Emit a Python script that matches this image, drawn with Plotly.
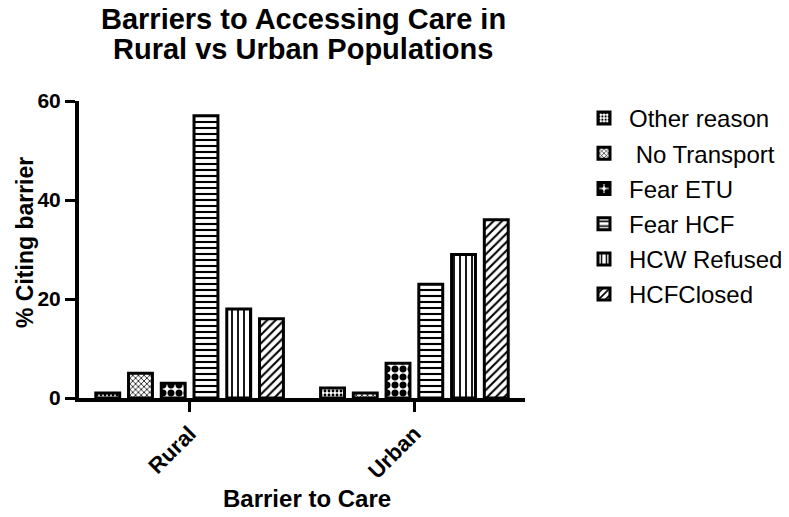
import plotly.graph_objects as go

# groups on the x axis
groups = ["Rural", "Urban"]

# barrier categories (legend order)
barriers = ["Other reason", " No Transport", "Fear ETU", "Fear HCF", "HCW Refused", "HCFClosed"]

# % citing barrier, one list per barrier: [Rural, Urban]
other_reason = [1, 2]
no_transport = [5, 1]
fear_etu = [3, 7]
fear_hcf = [57, 23]
hcw_refused = [18, 29]
hcf_closed = [16, 36]

title_lines = ["Barriers to Accessing Care in", "Rural vs Urban Populations"]

series = [other_reason, no_transport, fear_etu, fear_hcf, hcw_refused, hcf_closed]
patterns = [".", "x", ".", "-", "|", "/"]
pattern_sizes = [4, 4, 8, 6, 6, 6]
solidity = [0.4, 0.35, 0.6, 0.35, 0.3, 0.35]

font_family = "Liberation Sans, Arial, sans-serif"

# the page body adds an 8px margin, so figure pixels = screen pixels - 8
OFF = 8
W, H = 789, 517

fig = go.Figure()

for i, (name, vals) in enumerate(zip(barriers, series)):
    fig.add_trace(go.Bar(
        x=groups,
        y=vals,
        name=name,
        legendgroup="g%d" % i,
        marker=dict(
            color="white",
            line=dict(color="black", width=3),
            pattern=dict(shape=patterns[i], fgcolor="black", bgcolor="white",
                         size=pattern_sizes[i], solidity=solidity[i], fillmode="replace"),
        ),
    ))

# plot area in screen pixels, then converted to figure pixels
L_s, R_s, T_s, B_s = 79, 525, 101, 398
L, R, T, B = L_s - OFF, R_s - OFF, T_s - OFF, B_s - OFF

def py(pix):
    # screen row -> paper y
    return (B - (pix - OFF)) / (B - T)

def px(pix):
    return ((pix - OFF) - L) / (R - L)

# two-line title, written as annotations to get the tight line spacing
for line, ypix in zip(title_lines, [19, 49]):
    fig.add_annotation(
        text="<b>%s</b>" % line, xref="paper", yref="paper",
        x=px(303), y=py(ypix), xanchor="center", yanchor="middle",
        showarrow=False, font=dict(size=29, family=font_family, color="black"),
    )

# axis titles as annotations, placed where the original has them
fig.add_annotation(
    text="<b>Barrier to Care</b>", xref="paper", yref="paper",
    x=px(307), y=py(498), xanchor="center", yanchor="middle",
    showarrow=False, font=dict(size=24, family=font_family, color="black"),
)
fig.add_annotation(
    text="<b>% Citing barrier</b>", xref="paper", yref="paper",
    x=px(25), y=py(243), xanchor="center", yanchor="middle", textangle=-90,
    showarrow=False, font=dict(size=23, family=font_family, color="black"),
)

fig.update_layout(
    width=W,
    height=H,
    paper_bgcolor="white",
    plot_bgcolor="white",
    margin=dict(l=L, r=W - R, t=T, b=H - B, autoexpand=False),
    barmode="group",
    bargap=0.126,
    bargroupgap=0.27,
    font=dict(family=font_family, color="black"),
    legend=dict(
        x=px(579), y=py(96), xanchor="left", yanchor="top",
        font=dict(size=24, family=font_family, color="black"),
        tracegroupgap=1,
        itemwidth=40,
    ),
    showlegend=True,
)

fig.update_xaxes(
    range=[-0.492, 1.492],
    automargin=False,
    showline=True, linecolor="black", linewidth=4,
    ticks="outside", ticklen=10, tickwidth=3, tickcolor="black",
    tickangle=-45,
    tickfont=dict(size=22, family=font_family, color="black", weight="bold"),
    showgrid=False, zeroline=False,
)

fig.update_yaxes(
    range=[0, 60],
    automargin=False,
    tickvals=[0, 20, 40, 60],
    showline=True, linecolor="black", linewidth=4,
    ticks="outside", ticklen=10, tickwidth=3, tickcolor="black",
    tickfont=dict(size=21, family=font_family, color="black", weight="bold"),
    showgrid=False, zeroline=False,
)

fig.write_html("out.html")
